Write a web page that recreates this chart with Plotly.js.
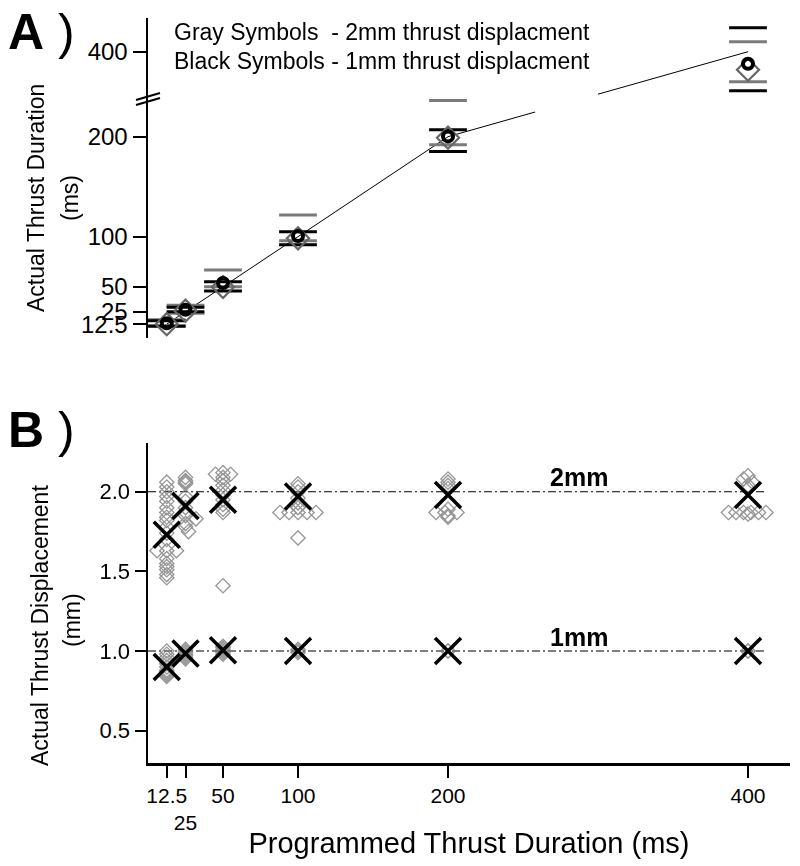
<!DOCTYPE html>
<html><head><meta charset="utf-8">
<script src="https://cdn.plot.ly/plotly-3.0.1.min.js"></script>
<style>html,body{margin:0;padding:0;background:#fff}</style>
</head><body><div id="chart" style="width:800px;height:866px"></div>
<script>
// ---------- data ----------
const programmed = [12.5, 25, 50, 100, 200, 400];
const tickLabelsA = ['12.5', '25', '50', '100', '200', '400'];
const tickLabelsB = ['12.5', '<br>25', '50', '100', '200', '400'];

// Panel A: actual thrust duration (ms)
const black1mmMean = [13.5, 27, 53.7, 100.7, 200.3, 388];
const black1mmHi   = [16, 29.5, 55, 105, 207, 424];
const black1mmLo   = [10.5, 25, 45.7, 92, 185.3, 361];
const gray2mmMean  = [12.5, 26, 49.7, 98.4, 199, 382];
const gray2mmHi    = [17, 31.5, 66.7, 121.7, 236.3, 410];
const gray2mmLo    = [11, 23.5, 50, 96, 192, 370];

// Panel B: actual thrust displacement (mm), individual trials
const t2_12x = [12.5,12.5,12.5,12.5,12.5,12.5,12.5,12.5,12.5,12.5,12.5,12.5,6,19,12.5,12.5,12.5,12.5,12.5,12.5,12.5];
const t2_12y = [2.06,2.03,2.0,1.97,1.94,1.9,1.87,1.84,1.82,1.78,1.74,1.7,1.63,1.63,1.63,1.58,1.55,1.53,1.51,1.48,1.46];
const t2_25x = [25,25,25,25,25,25,25,25,25,32,25,27,25];
const t2_25y = [2.09,2.07,2.06,2.05,1.97,1.94,1.9,1.87,1.85,1.83,1.8,1.75,1.78];
const t2_50x = [45,50,55,50,50,50,50,50,50,50,50,50,50];
const t2_50y = [2.11,2.12,2.11,2.09,2.07,2.04,2.01,1.98,1.95,1.92,1.89,1.87,1.41];
const t2_100x = [100,100,100,100,100,100,88,94,100,106,112,100];
const t2_100y = [2.05,2.03,2.0,1.96,1.93,1.9,1.87,1.87,1.87,1.87,1.87,1.71];
const t2_200x = [200,200,200,200,200,192,198,206,200,200];
const t2_200y = [2.08,2.06,2.04,2.02,1.89,1.87,1.87,1.87,1.85,1.84];
const t2_400x = [400,397,403,400,400,387,392,397,402,407,412,400];
const t2_400y = [2.1,2.08,2.06,2.04,2.02,1.87,1.87,1.87,1.87,1.87,1.87,1.86];
const t1_12x = [12.5,12.5,12.5,12.5,12.5,12.5,12.5,12.5,12.5,12.5,12.5];
const t1_12y = [1.0,0.98,0.96,0.94,0.92,0.9,0.88,0.87,0.86,0.85,0.84];
const t1_25x = [25,25,25,25,25,25,25];
const t1_25y = [1.01,1.0,0.99,0.98,0.97,0.96,0.95];
const t1_50x = [50,50,50,50,50,50];
const t1_50y = [1.03,1.02,1.01,1.0,0.99,0.98];
const t1_100x = [100,100,100];
const t1_100y = [1.01,1.0,0.99];
const t1_200x = [200,200];
const t1_200y = [1.0,1.0];
const t1_400x = [400,400];
const t1_400y = [1.0,1.0];

// Panel B means
const mean2mm = [1.73, 1.91, 1.95, 1.97, 1.98, 1.98];
const mean1mm = [0.9, 0.985, 1.005, 1.0, 1.0, 1.0];
const nominal = [1, 2];
const nominalLabels = ['1mm', '2mm'];

// ---------- helpers ----------
const W = 800, H = 866;
const px = x => x / W;
const py = y => 1 - y / H;
// broken axis for panel A: values above the break are shifted down
const BREAK = 240, SHIFT = 115;
const mapA = v => (v > BREAK ? v - SHIFT : v);

const GRAY = '#7a7a7a';
const FONT = 'Arial, "Liberation Sans", sans-serif';

const traces = [];
// Panel A
traces.push({x: programmed, y: programmed.map(mapA), mode: 'lines', line: {color: '#000', width: 1}, xaxis: 'x', yaxis: 'y', hoverinfo: 'skip'});
const bar = (ys, color) => ({x: programmed, y: ys.map(mapA), mode: 'markers', xaxis: 'x', yaxis: 'y',
  marker: {symbol: 'line-ew', size: 27, color: color, line: {color: color, width: 3}}});
traces.push(bar(gray2mmHi, GRAY), bar(gray2mmLo, GRAY), bar(black1mmHi, '#000'), bar(black1mmLo, '#000'));
traces.push({x: programmed, y: gray2mmMean.map(mapA), mode: 'markers', xaxis: 'x', yaxis: 'y',
  marker: {symbol: 'diamond-open', size: 17, color: '#666', line: {color: '#666', width: 2.2}}});
traces.push({x: programmed, y: black1mmMean.map(mapA), mode: 'markers', xaxis: 'x', yaxis: 'y',
  marker: {symbol: 'circle-open', size: 10, color: '#000', line: {color: '#000', width: 4}}});

// Panel B
const allX = [].concat(t2_12x, t2_25x, t2_50x, t2_100x, t2_200x, t2_400x, t1_12x, t1_25x, t1_50x, t1_100x, t1_200x, t1_400x);
const allY = [].concat(t2_12y, t2_25y, t2_50y, t2_100y, t2_200y, t2_400y, t1_12y, t1_25y, t1_50y, t1_100y, t1_200y, t1_400y);
traces.push({x: allX, y: allY, mode: 'markers', xaxis: 'x2', yaxis: 'y2', opacity: 0.8,
  marker: {symbol: 'diamond-open', size: 11, color: '#7c7c7c', line: {color: '#7c7c7c', width: 1.3}}});
[mean2mm, mean1mm].forEach(m => traces.push({x: programmed, y: m, mode: 'markers', xaxis: 'x2', yaxis: 'y2',
  marker: {symbol: 'x-thin-open', size: 26, color: '#000', line: {color: '#000', width: 3.5}}}));

const shapes = nominal.map(v => ({type: 'line', xref: 'x2', yref: 'y2', x0: 0, x1: 411, y0: v, y1: v,
  line: {color: '#000', width: 1.2, dash: '8px,3px,2px,3px'}, layer: 'below'}));
// gap in the identity line at the axis break
shapes.push({type: 'rect', xref: 'x', yref: 'y', x0: 258, x1: 300, y0: 224, y1: 244, fillcolor: '#fff', line: {width: 0}});
// break marks
shapes.push({type: 'line', xref: 'paper', yref: 'paper', x0: px(136), y0: py(100), x1: px(160), y1: py(93), line: {color: '#000', width: 2}});
shapes.push({type: 'line', xref: 'paper', yref: 'paper', x0: px(136), y0: py(105), x1: px(160), y1: py(98), line: {color: '#000', width: 2}});

const ann = (text, x, y, size, extra) => Object.assign({text: text, x: px(x), y: py(y), xref: 'paper', yref: 'paper',
  xanchor: 'center', yanchor: 'middle', showarrow: false, font: {size: size, family: FONT, color: '#000'}}, extra || {});
const annotations = [
  ann('<b>A</b> )', 6, 2, 50, {xanchor: 'left', yanchor: 'top'}),
  ann('<b>B</b> )', 6, 400, 50, {xanchor: 'left', yanchor: 'top'}),
  ann('Gray Symbols  - 2mm thrust displacment', 172, 32, 23, {xanchor: 'left'}),
  ann('Black Symbols - 1mm thrust displacment', 172, 61, 23, {xanchor: 'left'}),
  ann('Actual Thrust Duration', 36, 198, 23, {textangle: -90}),
  ann('(ms)', 70, 198, 23, {textangle: -90}),
  ann('Actual Thrust Displacement', 40, 626, 23, {textangle: -90}),
  ann('(mm)', 72, 620, 23, {textangle: -90})
];
nominal.forEach((v, i) => annotations.push({text: '<b>' + nominalLabels[i] + '</b>', x: 287, y: v + 0.09, xref: 'x2', yref: 'y2',
  showarrow: false, font: {size: 25, family: FONT, color: '#000'}}));

const axisCommon = {showgrid: false, zeroline: false, showline: true, linewidth: 2.5, linecolor: '#000',
  ticks: 'outside', tickwidth: 2, tickcolor: '#000'};

const layout = {
  width: W, height: H, margin: {l: 0, r: 0, t: 0, b: 0}, showlegend: false,
  paper_bgcolor: '#fff', plot_bgcolor: 'rgba(0,0,0,0)', font: {family: FONT, color: '#000'},
  xaxis: {domain: [px(148), px(790)], range: [0, 428], visible: false, anchor: 'y'},
  yaxis: Object.assign({}, axisCommon, {domain: [py(338), py(18)], range: [-1.3, 318.7], anchor: 'x',
    tickvals: programmed.map(mapA), ticktext: tickLabelsA, ticklen: 13, tickfont: {size: 24, family: FONT}}),
  xaxis2: Object.assign({}, axisCommon, {domain: [px(148), px(790)], range: [0, 428], anchor: 'y2',
    tickvals: programmed, ticktext: tickLabelsB, ticklen: 12, tickangle: 0, tickfont: {size: 21, family: FONT},
    title: {text: 'Programmed Thrust Duration (ms)', font: {size: 29, family: FONT}, standoff: 0}}),
  yaxis2: Object.assign({}, axisCommon, {domain: [py(763), py(443)], range: [0.297, 2.306], anchor: 'x2',
    tickvals: [0.5, 1, 1.5, 2], ticktext: ['0.5', '1.0', '1.5', '2.0'], ticklen: 11, tickfont: {size: 22, family: FONT}}),
  shapes: shapes, annotations: annotations
};

Plotly.newPlot('chart', traces, layout, {staticPlot: true, displayModeBar: false});
</script></body></html>
